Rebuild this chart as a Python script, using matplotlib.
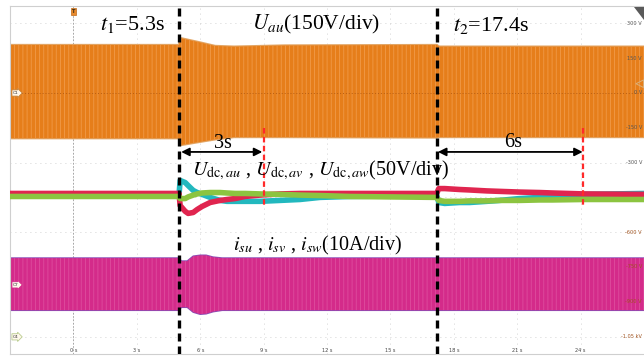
import matplotlib

matplotlib.use("Agg")
import matplotlib.pyplot as plt
from matplotlib.patches import Polygon

plt.rcParams.update({
    "font.family": ["Liberation Serif", "DejaVu Serif"],
    "mathtext.fontset": "stix",
    "hatch.linewidth": 0.6,
})

# Scope grid: 10 divisions of 3 s, 10 divisions of 150 V
T_LIM = (-3.0, 27.0)
V_LIM = (-1125.0, 375.0)
T_TICKS = [0, 3, 6, 9, 12, 15, 18, 21, 24]
T_TICK_TEXT = ["0 s", "3 s", "6 s", "9 s", "12 s", "15 s", "18 s", "21 s", "24 s"]
V_GRID = [300, 150, 0, -150, -300, -450, -600, -750, -900, -1050]
V_LABEL_VALS = [300, 150, 0, -150, -300, -600, -750, -900, -1050]
V_LABEL_TEXT = ["300 V", "150 V", "0 V", "-150 V", "-300 V",
                "-600 V", "-750 V", "-900 V", "-1.05 kV"]

# Event markers (s, scope time base)
T1_LINE, T1_END = 5.0, 9.0
T2_LINE, T2_END = 17.2, 24.1

# U_au envelope
UAU_T = [-3.0, 5.0, 5.05, 5.9, 6.7, 7.6, 10.0, 17.2, 17.3, 27.0]
UAU_HI = [207, 207, 237, 220, 203, 200, 205, 207, 200, 200]
UAU_LO = [-195, -195, -225, -212, -200, -190, -190, -192, -190, -190]

# DC-link voltages U_dc,au / U_dc,av / U_dc,aw
UDC_T = [-3.0, 5.0, 5.05, 5.29, 5.43, 5.67, 5.86, 6.09, 6.47, 6.94,
         7.27, 7.65, 8.12, 8.83, 9.78, 10.72, 11.67, 13.08, 17.19, 17.29,
         17.57, 18.28, 18.75, 19.56, 20.17, 21.11, 22.06, 22.67, 24.14, 27.0]
UDC_CYAN = [-437, -437, -377, -386, -399, -420, -429, -437, -450, -463,
            -467, -467, -467, -467, -463, -459, -450, -446, -442, -472,
            -476, -472, -472, -467, -463, -455, -450, -446, -437, -433]
UDC_RED = [-433, -433, -485, -510, -519, -515, -502, -489, -472, -463,
           -459, -455, -446, -440, -435, -433, -433, -433, -433, -412,
           -412, -416, -418, -422, -424, -427, -429, -431, -435, -437]
UDC_GREEN = [-446, -446, -455, -455, -448, -440, -435, -431, -429, -429,
             -431, -433, -433, -435, -437, -440, -442, -446, -450, -463,
             -467, -467, -465, -465, -463, -463, -461, -461, -459, -459]

# i_su / i_sv / i_sw envelope
IS_T = [-3.0, 5.0, 5.1, 5.39, 5.67, 6.0, 6.28, 6.61, 7.04, 27.0]
IS_HI = [-712, -712, -725, -725, -704, -700, -700, -708, -712, -712]
IS_LO = [-936, -936, -923, -923, -944, -953, -951, -942, -936, -936]

ORANGE = "#E67E1A"
PINK = "#D42B8A"
SERIF = ["Liberation Serif", "DejaVu Serif"]

fig = plt.figure(figsize=(6.44, 3.56), dpi=100)
ax = fig.add_axes([10 / 644, 2 / 356, 1 - 10 / 644, 348 / 356])
ax.set_xlim(*T_LIM)
ax.set_ylim(*V_LIM)
ax.set_xticks([])
ax.set_yticks([])
for side in ("top", "left", "bottom"):
    ax.spines[side].set_color("#cfcfcf")
    ax.spines[side].set_linewidth(0.8)
ax.spines["right"].set_visible(False)

# dotted graticule
for t in list(range(-3, 28, 3)):
    ax.axvline(t, color="#c4c4c4", lw=0.6, ls=(0, (1, 5)), zorder=0)
for v in V_GRID:
    ax.axhline(v, color="#c4c4c4", lw=0.6, ls=(0, (1, 5)), zorder=0)
ax.axvline(0, color="#9a9a9a", lw=0.6, ls=(0, (2, 2)), zorder=0.5)

# U_au
ax.plot(UAU_T, UAU_HI, color="#E2A564", lw=1.6, zorder=1)
ax.plot(UAU_T, UAU_LO, color="#E2A564", lw=1.6, zorder=1)
ax.fill_between(UAU_T, UAU_LO, UAU_HI, facecolor=ORANGE,
                edgecolor="#F09A48", hatch="||||", lw=0, zorder=2)
ax.axhline(0, color="#B85E12", lw=0.7, ls=(0, (1, 2)), zorder=2.5)

# DC-link voltages
for vals, col, z in [(UDC_CYAN, "#22B8BE", 3), (UDC_RED, "#E0254F", 3.2),
                     (UDC_GREEN, "#8CC440", 3.4)]:
    ax.plot(UDC_T, vals, color=col, lw=4.0, zorder=z, solid_capstyle="butt")

# currents
ax.plot(IS_T, IS_HI, color="#8C4AB4", lw=1.3, zorder=1)
ax.plot(IS_T, IS_LO, color="#8C4AB4", lw=1.3, zorder=1)
ax.fill_between(IS_T, IS_LO, IS_HI, facecolor=PINK,
                edgecolor="#DE4D9E", hatch="||||", lw=0, zorder=2)

# tiny scope labels
for t, s in zip(T_TICKS, T_TICK_TEXT):
    ax.text(t, -1108, s, fontsize=3.6, color="#444444", ha="center",
            va="center", family="DejaVu Sans", zorder=6)
for v, s in zip(V_LABEL_VALS, V_LABEL_TEXT):
    col = "#555555" if v > -450 else "#A0521E"
    ax.text(26.9, v, s, fontsize=3.6, color=col, ha="right", va="center",
            family="DejaVu Sans", zorder=6)

# channel tags
for v, s, ec in [(0, "C1", "#C7843A"), (-827, "C7", "#D42B8A"),
                 (-1051, "C4", "#B9CC8E")]:
    ax.text(-2.72, v, s, fontsize=3.2, color="#333333", ha="center",
            va="center", family="DejaVu Sans", zorder=7,
            bbox=dict(boxstyle="rarrow,pad=0.25", fc="#FFF8EC", ec=ec, lw=0.6))

# trigger marker and offset markers
ax.text(0, 350, "T", fontsize=3.6, color="#3a2a10", ha="center", va="center",
        family="DejaVu Sans", fontweight="bold", zorder=7,
        bbox=dict(boxstyle="square,pad=0.2", fc="#E98B2E", ec="#C06A18", lw=0.5))
ax.scatter([26.8], [40], marker="<", s=30, facecolor="none",
           edgecolor="#D9B07A", lw=0.7, zorder=7)
fig.patches.append(Polygon([(634 / 644, 1 - 7 / 356), (1.0, 1 - 7 / 356),
                            (1.0, 1 - 20 / 356)], closed=True,
                           transform=fig.transFigure, fc="#5a5a5a", ec="none"))

# event lines
for t in (T1_LINE, T2_LINE):
    ax.axvline(t, color="black", lw=2.4, ls=(0, (2.4, 1.5)), zorder=8)
for t in (T1_END, T2_END):
    ax.plot([t, t], [-151, -483], color="#FF2A2A", lw=1.6,
            ls=(0, (2.5, 1.5)), zorder=8)

arrow = dict(arrowstyle="<|-|>", color="black", lw=1.3, mutation_scale=12,
             shrinkA=0, shrinkB=0)
ax.annotate("", xy=(T1_END - 0.06, -254), xytext=(T1_LINE + 0.1, -254),
            arrowprops=arrow, zorder=9)
ax.annotate("", xy=(T2_END, -254), xytext=(T2_LINE + 0.05, -254),
            arrowprops=arrow, zorder=9)

# annotations
txt = dict(family=SERIF, color="black", ha="left", va="baseline", zorder=10)
ax.text(1.28, 272, r"$t_1$=5.3s", fontsize=16, **txt)
ax.text(8.47, 272, r"$U_{au}$(150V/div)", fontsize=15.5, **txt)
ax.text(17.94, 268, r"$t_2$=17.4s", fontsize=16, **txt)
ax.text(6.63, -237, "3s", fontsize=14.5, **txt)
ax.text(20.4, -233, "6s", fontsize=14.5, **txt)
ax.text(5.63, -353,
        r"$U_{\mathrm{dc},au}$ , $U_{\mathrm{dc},av}$ , $U_{\mathrm{dc},aw}$(50V/div)",
        fontsize=14.5, **txt)
ax.text(7.57, -677, r"$i_{su}$ , $i_{sv}$ , $i_{sw}$(10A/div)", fontsize=14.5, **txt)

fig.savefig("out.png", dpi=100, facecolor="white")
